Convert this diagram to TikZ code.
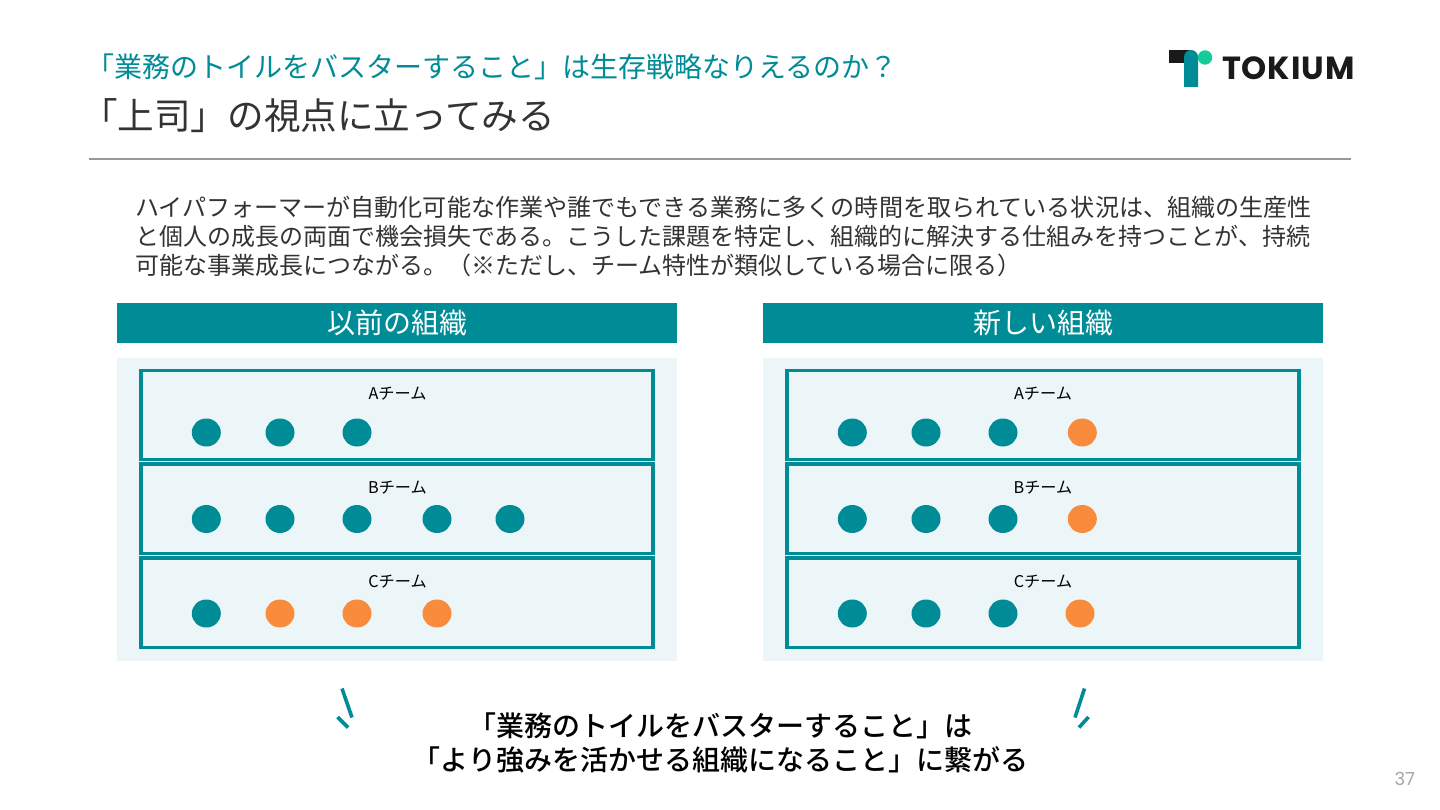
\documentclass[tikz,border=0pt]{standalone}
\usepackage{fontspec}
\setmainfont{Noto Sans CJK JP}
\newfontfamily\medfont{Noto Sans CJK JP Medium}
\newfontfamily\latinfont{Poppins}
\newfontfamily\logofont[LetterSpace=3]{Poppins}
\definecolor{teal1}{HTML}{008C96}
\definecolor{panelbg}{HTML}{ECF6F8}
\definecolor{orange1}{HTML}{F98C3C}
\definecolor{ink}{HTML}{333333}
\definecolor{logogreen}{HTML}{14CC99}
\definecolor{logoink}{HTML}{1A1A1A}
\newcommand{\fs}[1]{\fontsize{#1}{#1}\selectfont}
\usetikzlibrary{shapes.geometric}
\tikzset{
  txt/.style={inner sep=0pt,outer sep=0pt,text=ink},
  title1/.style={txt,anchor=west,text=teal1,font=\fs{28}},
  title2/.style={txt,anchor=west,font=\fs{36.6}},
  bodyline/.style={txt,anchor=west,font=\fs{24}},
  header/.style={txt,text=white,font=\fs{28}},
  teamlabel/.style={txt,text=black,font=\fs{16.2}},
  closing/.style={txt,text=black,font=\medfont\fs{28}},
  teamdot/.style={ellipse,minimum width=29pt,minimum height=28pt,inner sep=0pt,draw=none},
  tdot/.style={teamdot,fill=teal1},
  odot/.style={teamdot,fill=orange1},
  panel/.style={fill=panelbg,draw=none},
  headbar/.style={fill=teal1,draw=none},
  teambox/.style={draw=teal1,line width=3.2pt,fill=none},
  spark/.style={draw=teal1,line width=3.6pt}
}
\begin{document}
\begin{tikzpicture}[x=1pt,y=-1pt]
\useasboundingbox (0,0) rectangle (1440,810);
\fill[white] (0,0) rectangle (1440,810);
% titles
\node[title1] (t1) at (86,67) {「業務のトイルをバスターすること」は生存戦略なりえるのか？};
\node[title2] (t2) at (81,116) {「上司」の視点に立ってみる};
\draw[color=black!40,line width=1.2pt] (89,159) -- (1351,159);
% logo
\fill[logoink] (1169,50.5) rectangle (1191,63);
\fill[teal1] (1184,87) -- (1184,57) arc[start angle=180,end angle=360,radius=7] -- (1198,87) -- cycle;
\fill[logogreen] (1205,57.5) circle[radius=7.2];
\node[txt,anchor=west,text=logoink,font=\logofont\bfseries\fs{32}] (logo) at (1222,68) {TOKIUM};
% body
\node[bodyline] (b1) at (135,207) {\fs{24.08}ハイパフォーマーが自動化可能な作業や誰でもできる業務に多くの時間を取られている状況は、組織の生産性};
\node[bodyline] (b2) at (135,236) {と個人の成長の両面で機会損失である。こうした課題を特定し、組織的に解決する仕組みを持つことが、持続};
\node[bodyline] (b3) at (135,265) {可能な事業成長につながる。（※ただし、チーム特性が類似している場合に限る）};
% left
\path[headbar] (117,303) rectangle (677,343);
\node[header] (hl) at (397,323) {以前の組織};
\path[panel] (117,357.5) rectangle (677,660.5);
\draw[teambox] (141,370.5) rectangle (653,459.5);
\draw[teambox] (141,464) rectangle (653,553.5);
\draw[teambox] (141,558) rectangle (653,647.5);
\node[teamlabel] (la) at (397.5,394) {Aチーム};
\node[teamlabel] (lb) at (397.5,488) {Bチーム};
\node[teamlabel] (lc) at (397.5,582) {Cチーム};
\node[tdot] (la1) at (206.3,432.5) {};
\node[tdot] (la2) at (280,432.5) {};
\node[tdot] (la3) at (357,432.5) {};
\node[tdot] (lb1) at (206.3,519) {};
\node[tdot] (lb2) at (280,519) {};
\node[tdot] (lb3) at (357,519) {};
\node[tdot] (lb4) at (437,519) {};
\node[tdot] (lb5) at (510,519) {};
\node[tdot] (lc1) at (206.3,613.5) {};
\node[odot] (lc2) at (280,613.5) {};
\node[odot] (lc3) at (357,613.5) {};
\node[odot] (lc4) at (437,613.5) {};
% right
\path[headbar] (763,303) rectangle (1323,343);
\node[header] (hr) at (1043,323) {新しい組織};
\path[panel] (763,357.5) rectangle (1323,660.5);
\draw[teambox] (787,370.5) rectangle (1299,459.5);
\draw[teambox] (787,464) rectangle (1299,553.5);
\draw[teambox] (787,558) rectangle (1299,647.5);
\node[teamlabel] (ra) at (1043,394) {Aチーム};
\node[teamlabel] (rb) at (1043,488) {Bチーム};
\node[teamlabel] (rc) at (1043,582) {Cチーム};
\node[tdot] (ra1) at (852.3,432.5) {};
\node[tdot] (ra2) at (926,432.5) {};
\node[tdot] (ra3) at (1003,432.5) {};
\node[odot] (ra4) at (1082.3,432.5) {};
\node[tdot] (rb1) at (852.3,519) {};
\node[tdot] (rb2) at (926,519) {};
\node[tdot] (rb3) at (1003,519) {};
\node[odot] (rb4) at (1082.3,519) {};
\node[tdot] (rc1) at (852.3,613.5) {};
\node[tdot] (rc2) at (926,613.5) {};
\node[tdot] (rc3) at (1003,613.5) {};
\node[odot] (rc4) at (1080,613.5) {};
% closing
\draw[spark] (342,688.5) -- (352,717.5);
\draw[spark] (337.5,717) -- (348,727.5);
\draw[spark] (1084.5,688.5) -- (1075,717.5);
\draw[spark] (1088.5,717) -- (1079,727.5);
\node[closing] (c1) at (720,726) {「業務のトイルをバスターすること」は};
\node[closing] (c2) at (720.5,760) {「より強みを活かせる組織になること」に繋がる};
\node[txt,anchor=east,text=black!35,font=\latinfont\fs{18}] (pg) at (1415,779) {37};
\end{tikzpicture}
\end{document}
